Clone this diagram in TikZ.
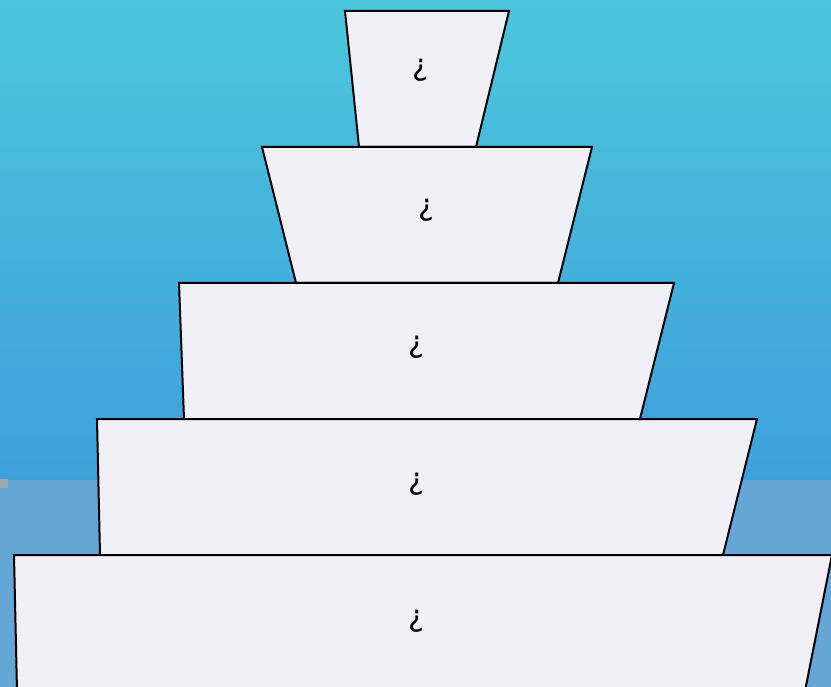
\documentclass[tikz,border=0pt]{standalone}
\usepackage{fontspec}
\setmainfont{DejaVu Sans}
\definecolor{bgtop}{HTML}{4CC6DC}
\definecolor{bgmid}{HTML}{3DA0DC}
\definecolor{bglow}{HTML}{64A6D6}
\definecolor{tier}{HTML}{F1F0F7}
\definecolor{marker}{HTML}{9FA8B0}
\begin{document}
\begin{tikzpicture}[x=1pt,y=-1pt,
  tierbox/.style={fill=tier,draw=black,line width=2pt,line join=miter},
  tiertext/.style={font=\fontsize{30}{34}\selectfont,text=black,inner sep=0pt}]
\useasboundingbox (0,0) rectangle (831,687);
\shade[top color=bgtop,bottom color=bgmid] (0,0) rectangle (831,480);
\fill[bglow] (0,480) rectangle (831,687);
\fill[marker] (0,479) rectangle (8,488);
\begin{scope}
\clip (0,0) rectangle (831,687);
\draw[tierbox] (345,11) -- (509,11) -- (476,147) -- (359,147) -- cycle;
\draw[tierbox] (262,147) -- (592,147) -- (558,283) -- (296,283) -- cycle;
\draw[tierbox] (179,283) -- (674,283) -- (640,419) -- (184,419) -- cycle;
\draw[tierbox] (97,419) -- (757,419) -- (723,555) -- (100,555) -- cycle;
\draw[tierbox] (14,555) -- (832,555) -- (805,691) -- (17,691) -- cycle;
\end{scope}
\node[tiertext] (t1) at (420,70) {¿};
\node[tiertext] (t2) at (426,210) {¿};
\node[tiertext] (t3) at (416,347) {¿};
\node[tiertext] (t4) at (416,484) {¿};
\node[tiertext] (t5) at (416,621) {¿};
\end{tikzpicture}
\end{document}
